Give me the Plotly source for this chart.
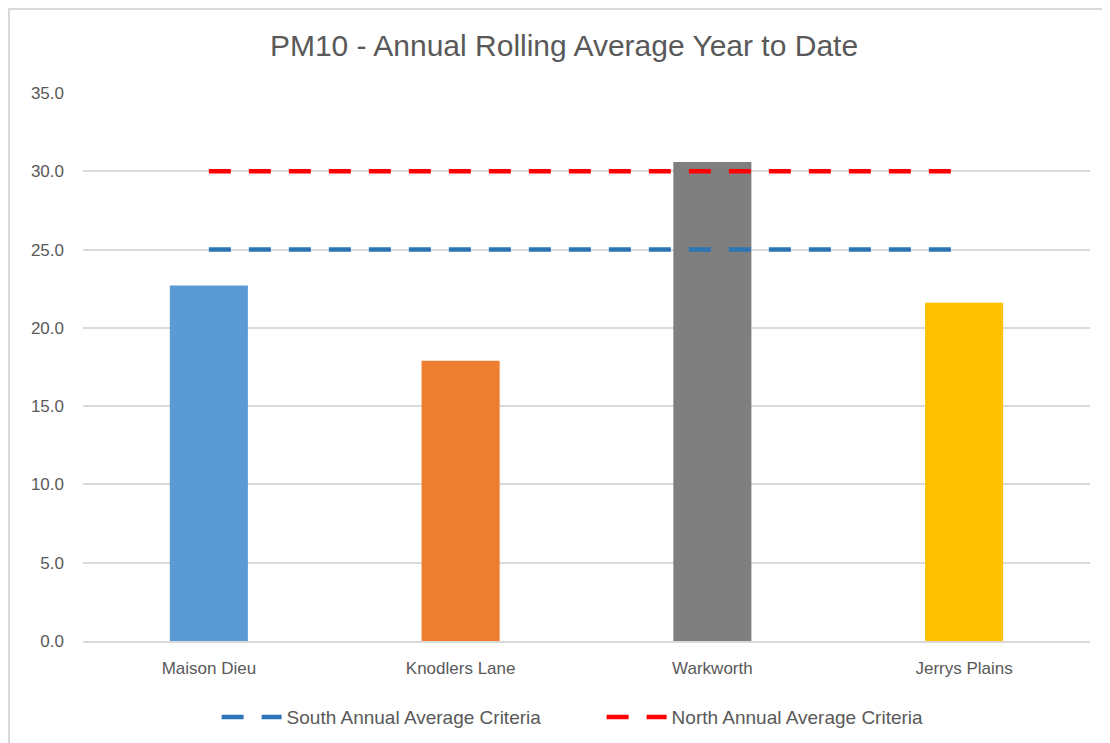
import plotly.graph_objects as go

# PM10 rolling average per monitor
sites = ["Maison Dieu", "Knodlers Lane", "Warkworth", "Jerrys Plains"]
pm10 = [22.7, 17.9, 30.6, 21.6]
bar_colors = ["#5B9BD5", "#ED7D31", "#7F7F7F", "#FFC000"]

south_criteria = [25, 25, 25, 25]
north_criteria = [30, 30, 30, 30]

font_fam = "Liberation Sans Narrow, Liberation Sans, Arial"

fig = go.Figure()
fig.add_trace(go.Bar(x=sites, y=pm10, marker=dict(color=bar_colors, line=dict(width=0)),
                     width=0.31, showlegend=False))
fig.add_trace(go.Scatter(x=sites, y=south_criteria, mode="lines", name="South Annual Average Criteria",
                         line=dict(color="#2E75B6", width=4.5, dash="22px,18px")))
fig.add_trace(go.Scatter(x=sites, y=north_criteria, mode="lines", name="North Annual Average Criteria",
                         line=dict(color="#FF0000", width=4.5, dash="22px,18px")))

# page body adds an 8px offset, margins account for that
fig.update_layout(
    width=1110, height=743,
    margin=dict(l=75, r=28, t=85, b=110),
    paper_bgcolor="white", plot_bgcolor="white",
    font=dict(family=font_fam, color="#595959", size=17),
    title=dict(text="PM10 - Annual Rolling Average Year to Date", x=(564 - 8) / 1110, xanchor="center",
               y=0.949, yanchor="middle", font=dict(size=30, color="#595959")),
    legend=dict(orientation="h", x=0.515, xanchor="center", y=-0.139, yanchor="middle",
                font=dict(size=19), itemwidth=60, entrywidth=310),
    bargap=0.69,
    shapes=[dict(type="rect", xref="paper", yref="paper", x0=-0.0735, x1=1.2, y0=-0.4, y1=1.1533,
                 line=dict(color="#D9D9D9", width=2), layer="below")],
)
fig.update_yaxes(range=[0, 35], dtick=5, tickformat=".1f", gridcolor="#D9D9D9", gridwidth=1.5,
                 zeroline=False, showline=False, ticks="", ticklabelstandoff=18, automargin=False)
fig.update_xaxes(showline=True, linecolor="#D9D9D9", linewidth=1.5, ticks="", ticklabelstandoff=11,
                 automargin=False)

fig.write_html("out.html")
